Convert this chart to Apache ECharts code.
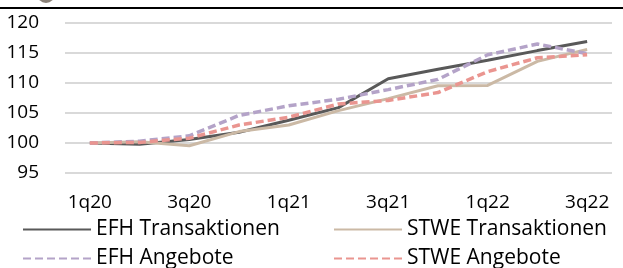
<!DOCTYPE html>
<html>
<head>
<meta charset="utf-8">
<script src="https://cdn.jsdelivr.net/npm/echarts@6/dist/echarts.min.js"></script>
<style>
  html, body { margin: 0; padding: 0; background: #fff; }
  #chart { width: 623px; height: 268px; }
</style>
</head>
<body>
<div id="chart"></div>
<script>
// Quartale
const categories = ['1q20', '2q20', '3q20', '4q20', '1q21', '2q21', '3q21', '4q21', '1q22', '2q22', '3q22'];

// Indexwerte (1q20 = 100)
const efhTransaktionen = [100, 99.8, 100.6, 101.8, 103.8, 105.9, 110.7, 112.3, 113.8, 115.4, 116.9];
const stweTransaktionen = [100, 100.2, 99.55, 101.9, 103.0, 105.4, 107.4, 109.55, 109.6, 113.6, 115.6];
const efhAngebote = [100, 100.3, 101.2, 104.6, 106.2, 107.3, 108.9, 110.6, 114.7, 116.5, 114.9];
const stweAngebote = [100, 100.1, 100.8, 103.0, 104.3, 106.5, 107.1, 108.4, 111.9, 114.2, 114.7];

const FONT = 'Open Sans';
const chart = echarts.init(document.getElementById('chart'));

function lineSeries(name, data, color, dashed) {
  return {
    name: name,
    type: 'line',
    data: data,
    symbol: 'none',
    smooth: false,
    lineStyle: { color: color, width: dashed ? 3.5 : 3, type: dashed ? [8, 4] : 'solid', cap: 'butt' },
    itemStyle: { color: color }
  };
}

// eine Legende pro Eintrag, damit die Spalten sauber untereinander stehen
function legendItem(name, left, top) {
  return {
    left: left, top: top, padding: 0, itemWidth: 68, itemHeight: 14,
    itemStyle: { opacity: 0 },
    textStyle: { fontFamily: FONT, fontSize: 21, color: '#000' },
    data: [name]
  };
}

chart.setOption({
  animation: false,
  backgroundColor: '#fff',
  graphic: [
    { type: 'line', shape: { x1: 0, y1: 8, x2: 623, y2: 8 }, style: { stroke: '#000', lineWidth: 2 } },
    { type: 'circle', shape: { cx: 46, cy: -6, r: 9 }, style: { fill: '#8a8178' } }
  ],
  grid: { left: 65, right: 11, top: 23, bottom: 95 },
  legend: [
    legendItem('EFH Transaktionen', 22, 219),
    legendItem('STWE Transaktionen', 333, 219),
    legendItem('EFH Angebote', 22, 248),
    legendItem('STWE Angebote', 333, 248)
  ],
  xAxis: {
    type: 'category',
    data: categories,
    boundaryGap: true,
    axisLine: { show: false },
    axisTick: { show: false },
    axisLabel: { interval: 1, margin: 20, fontFamily: FONT, fontSize: 19, color: '#000' }
  },
  yAxis: {
    type: 'value',
    min: 95,
    max: 120,
    interval: 5,
    axisLine: { show: false },
    axisTick: { show: false },
    axisLabel: { margin: 26, fontFamily: FONT, fontSize: 19, color: '#000' },
    splitLine: { lineStyle: { color: '#d9d9d9', width: 2 } }
  },
  series: [
    lineSeries('EFH Transaktionen', efhTransaktionen, '#595959', false),
    lineSeries('STWE Transaktionen', stweTransaktionen, '#cbb9a5', false),
    lineSeries('EFH Angebote', efhAngebote, '#b4a3c8', true),
    lineSeries('STWE Angebote', stweAngebote, '#ea9590', true)
  ]
});
</script>
</body>
</html>
